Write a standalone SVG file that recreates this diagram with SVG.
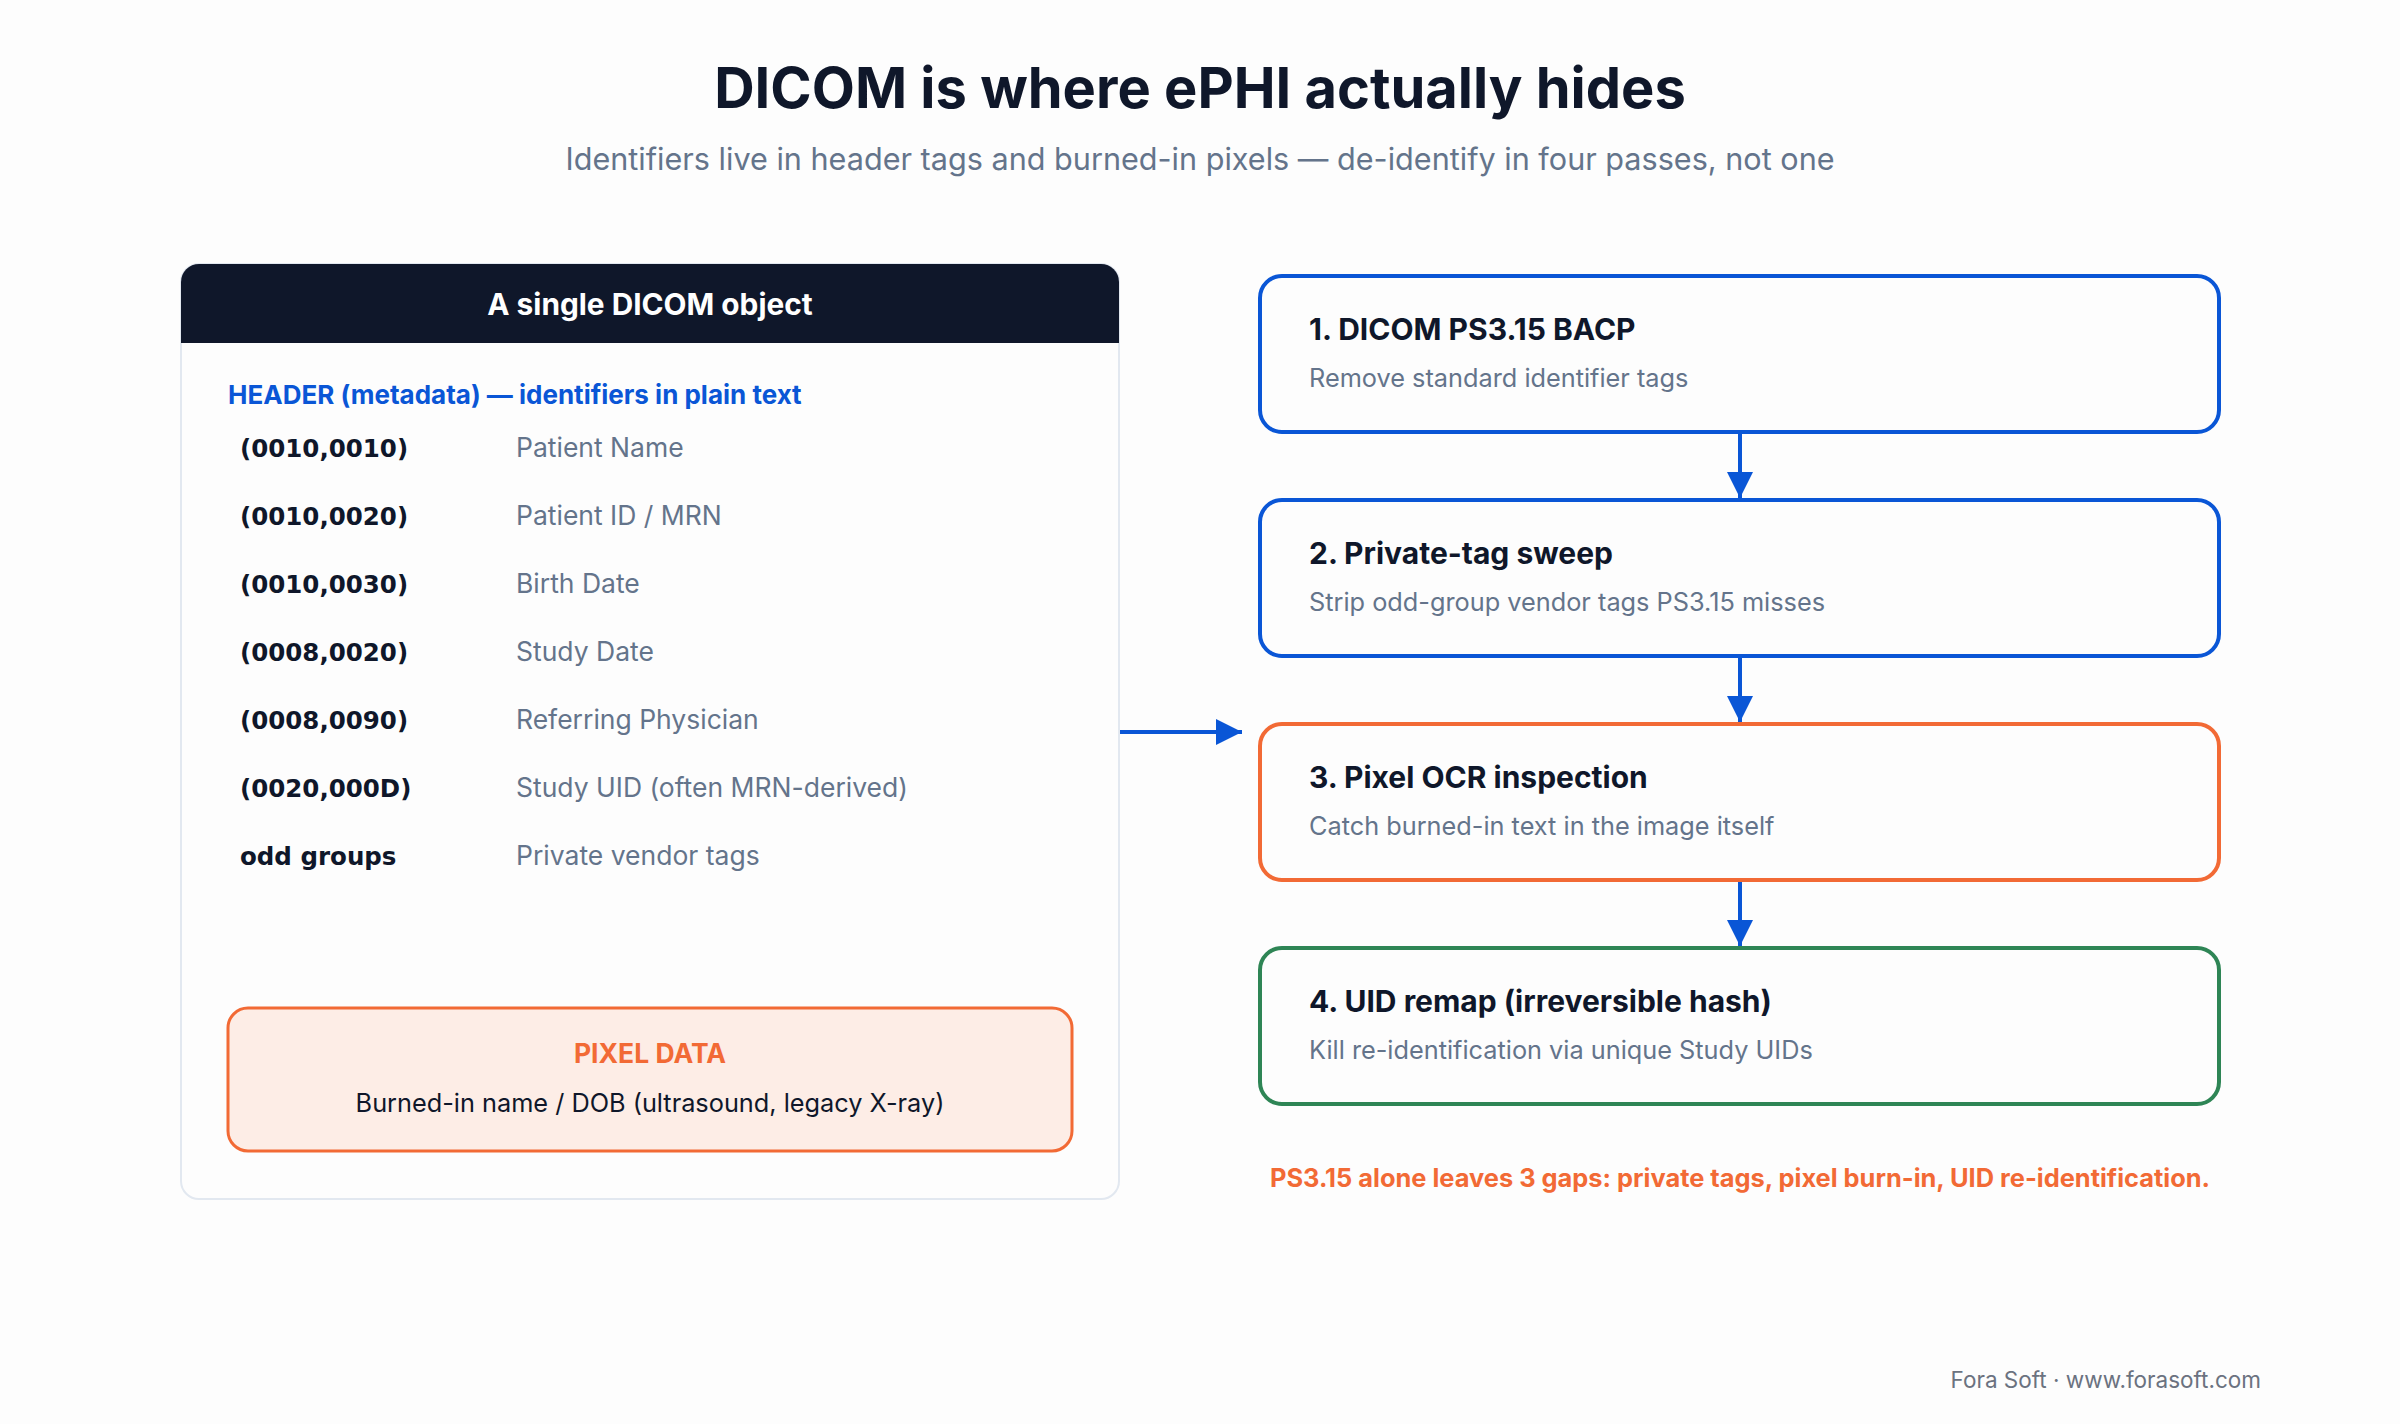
<svg xmlns="http://www.w3.org/2000/svg" width="2400" height="1424" viewBox="0 0 2400 1424">
<defs>
<style>
.t{font-family:Inter,"Noto Sans","Liberation Sans",sans-serif}
.title{font-size:56px;font-weight:700;fill:#0f172a}
.sub{font-size:30.6px;fill:#64748b}
.tag{font-family:"DejaVu Sans",sans-serif;font-size:24.5px;font-weight:700;fill:#0f172a}
.val{font-size:26.5px;fill:#64748b}
.bt{font-size:30px;font-weight:700;fill:#0f172a}
.bs{font-size:25.3px;fill:#64748b}
.step{fill:#fdfdfd;stroke-width:4}
.conn{stroke:#0a56d6;stroke-width:4;fill:none}
</style>
<marker id="ah" viewBox="0 0 10 10" refX="10" refY="5" markerWidth="6.5" markerHeight="6.5" markerUnits="strokeWidth" orient="auto">
<path d="M0,0 L10,5 L0,10 z" fill="#0a56d6"/>
</marker>
</defs>
<rect width="2400" height="1424" fill="#fdfdfd"/>
<text class="t title" x="1200" y="108" text-anchor="middle">DICOM is where ePHI actually hides</text>
<text class="t sub" x="1200" y="170" text-anchor="middle">Identifiers live in header tags and burned-in pixels — de-identify in four passes, not one</text>

<g id="dicom-object">
<rect x="181" y="264" width="938" height="935" rx="18" fill="#fdfdfd" stroke="#e2e8f0" stroke-width="2"/>
<path d="M181,343 V282 A18,18 0 0 1 199,264 H1101 A18,18 0 0 1 1119,282 V343 Z" fill="#0f172a"/>
<text class="t" x="650" y="315" text-anchor="middle" font-size="29.8" font-weight="700" fill="#ffffff">A single DICOM object</text>
<text class="t" x="228" y="404" font-size="26" font-weight="700" fill="#0a56d6">HEADER (metadata) — identifiers in plain text</text>
<text class="tag" x="240" y="457">(0010,0010)</text><text class="t val" x="516" y="457">Patient Name</text>
<text class="tag" x="240" y="525">(0010,0020)</text><text class="t val" x="516" y="525">Patient ID / MRN</text>
<text class="tag" x="240" y="593">(0010,0030)</text><text class="t val" x="516" y="593">Birth Date</text>
<text class="tag" x="240" y="661">(0008,0020)</text><text class="t val" x="516" y="661">Study Date</text>
<text class="tag" x="240" y="729">(0008,0090)</text><text class="t val" x="516" y="729">Referring Physician</text>
<text class="tag" x="240" y="797">(0020,000D)</text><text class="t val" x="516" y="797">Study UID (often MRN-derived)</text>
<text class="tag" x="240" y="865">odd groups</text><text class="t val" x="516" y="865">Private vendor tags</text>
</g>

<g id="pixel-data">
<rect x="228" y="1008" width="844" height="143" rx="20" fill="#fdede6" stroke="#f26a35" stroke-width="3"/>
<text class="t" x="650" y="1063" text-anchor="middle" font-size="26.5" font-weight="700" fill="#f26a35">PIXEL DATA</text>
<text class="t" x="650" y="1112" text-anchor="middle" font-size="25.3" fill="#0f172a">Burned-in name / DOB (ultrasound, legacy X-ray)</text>
</g>

<g id="step1">
<rect class="step" x="1260" y="276" width="959" height="156" rx="22" stroke="#0a56d6"/>
<text class="t bt" x="1309" y="340">1. DICOM PS3.15 BACP</text>
<text class="t bs" x="1309" y="387">Remove standard identifier tags</text>
</g>
<g id="step2">
<rect class="step" x="1260" y="500" width="959" height="156" rx="22" stroke="#0a56d6"/>
<text class="t bt" x="1309" y="564">2. Private-tag sweep</text>
<text class="t bs" x="1309" y="611">Strip odd-group vendor tags PS3.15 misses</text>
</g>
<g id="step3">
<rect class="step" x="1260" y="724" width="959" height="156" rx="22" stroke="#f26a35"/>
<text class="t bt" x="1309" y="788">3. Pixel OCR inspection</text>
<text class="t bs" x="1309" y="835">Catch burned-in text in the image itself</text>
</g>
<g id="step4">
<rect class="step" x="1260" y="948" width="959" height="156" rx="22" stroke="#2e8555"/>
<text class="t bt" x="1309" y="1012">4. UID remap (irreversible hash)</text>
<text class="t bs" x="1309" y="1059">Kill re-identification via unique Study UIDs</text>
</g>

<g id="connectors">
<line class="conn" x1="1120" y1="732" x2="1242" y2="732" marker-end="url(#ah)"/>
<line class="conn" x1="1740" y1="434" x2="1740" y2="498" marker-end="url(#ah)"/>
<line class="conn" x1="1740" y1="658" x2="1740" y2="722" marker-end="url(#ah)"/>
<line class="conn" x1="1740" y1="882" x2="1740" y2="946" marker-end="url(#ah)"/>
</g>

<text class="t" x="1740" y="1187" text-anchor="middle" font-size="25.4" font-weight="700" fill="#f26a35">PS3.15 alone leaves 3 gaps: private tags, pixel burn-in, UID re-identification.</text>
<text x="2261" y="1388" text-anchor="end" font-family="Inter,Roboto,sans-serif" font-size="22.5" fill="#6b7280">Fora Soft · www.forasoft.com</text>
</svg>
